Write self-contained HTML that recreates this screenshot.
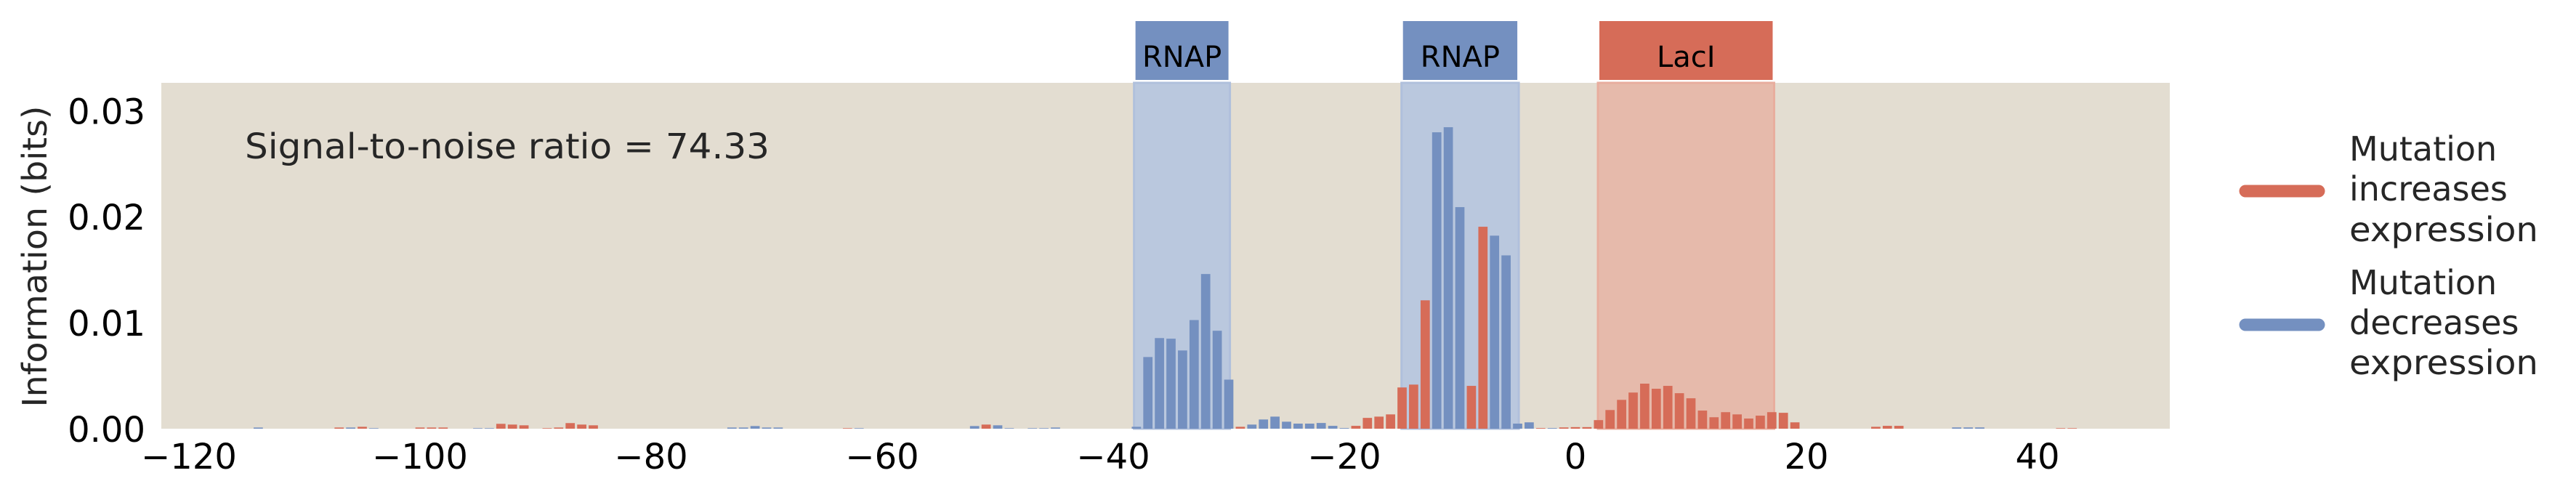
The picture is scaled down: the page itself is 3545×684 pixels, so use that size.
<!DOCTYPE html>
<html><head><meta charset="utf-8">
<style>
html,body{margin:0;padding:0;background:#fff;}
svg{display:block;font-family:"DejaVu Sans","Liberation Sans",sans-serif;}
</style></head>
<body>
<svg id="chart" width="3545" height="684" viewBox="0 0 3545 684" xmlns="http://www.w3.org/2000/svg">
  <rect x="222" y="114" width="2764" height="476" fill="#e3ddd1"/>
  <g id="regions"></g>
  <g id="bars"></g>
  <g id="yticks"></g>
  <g id="xticks"></g>
  <text x="337" y="218" font-size="48" fill="#262626" textLength="722" lengthAdjust="spacingAndGlyphs">Signal-to-noise ratio = 74.33</text>
  <text transform="translate(64,353) rotate(-90)" text-anchor="middle" font-size="46" fill="#262626" textLength="415" lengthAdjust="spacingAndGlyphs">Information (bits)</text>
  <g>
    <line x1="3090" y1="263" x2="3191" y2="263" stroke="#d66c58" stroke-width="17" stroke-linecap="round"/>
    <text font-size="46" fill="#262626"><tspan x="3233" y="221">Mutation</tspan><tspan x="3233" y="276">increases</tspan><tspan x="3233" y="332" textLength="260" lengthAdjust="spacingAndGlyphs">expression</tspan></text>
    <line x1="3090" y1="447" x2="3191" y2="447" stroke="#7490c0" stroke-width="17" stroke-linecap="round"/>
    <text font-size="46" fill="#262626"><tspan x="3233" y="405">Mutation</tspan><tspan x="3233" y="460">decreases</tspan><tspan x="3233" y="515" textLength="260" lengthAdjust="spacingAndGlyphs">expression</tspan></text>
  </g>
</svg>
<script>
const positions = [-114,-107,-106,-105,-104,-100,-99,-98,-95,-94,-93,-92,-91,-89,-88,-87,-86,-85,-73,-72,-71,-70,-69,-63,-62,-52,-51,-50,-49,-47,-46,-45,
 -38,-37,-36,-35,-34,-33,-32,-31,-30,-29,-28,-27,-26,-25,-24,-23,-22,-21,-20,-19,-18,-17,-16,-15,-14,-13,-12,-11,-10,-9,-8,-7,-6,-5,-4,-3,-2,-1,
 0,1,2,3,4,5,6,7,8,9,10,11,12,13,14,15,16,17,18,19,26,27,28,33,34,35,42,43];
const infoValues = [0.00011,0.00011,0.00011,0.00018,0.00005,0.00011,0.00011,0.00011,0.00005,0.00005,0.00046,0.00039,0.00032,0.00005,0.00011,0.00053,0.00039,0.00032,0.00011,0.00011,0.00025,0.00011,0.00011,0.00005,0.00005,0.00025,0.00039,0.00032,0.00005,0.00005,0.00005,0.00011,
 0.00018,0.00676,0.00855,0.00849,0.00738,0.01025,0.01459,0.00924,0.00463,0.00018,0.00039,0.00087,0.00114,0.00066,0.00048,0.00048,0.00054,0.00027,0.00006,0.00027,0.00102,0.00114,0.00135,0.00389,0.00416,0.01211,0.02796,0.02844,0.0209,0.00404,0.01905,0.01821,0.01635,0.00048,0.0006,0.00006,0.00006,0.00012,
 0.00015,0.00015,0.00081,0.00176,0.00272,0.00341,0.00425,0.00377,0.00404,0.00335,0.00287,0.00171,0.00108,0.00156,0.00135,0.00096,0.00123,0.00156,0.0015,0.0006,0.00018,0.00027,0.00027,0.00012,0.00012,0.00012,0.00005,0.00005];
const effectSign = ["d","i","d","i","d","i","i","i","d","d","i","i","i","i","i","i","i","i","d","d","d","d","d","i","d","d","i","d","d","d","d","d",
 "d","d","d","d","d","d","d","d","d","i","d","d","d","d","d","d","d","d","d","i","i","i","i","i","i","i","d","d","d","i","i","d","d","d","d","i","d","i",
 "i","i","i","i","i","i","i","i","i","i","i","i","i","i","i","i","i","i","i","i","i","i","i","d","d","d","i","i"];
const regionNames = ["RNAP","RNAP","LacI"];
const regionStart = [-38.2,-15.05,1.95];
const regionEnd = [-29.9,-4.9,17.2];
const regionKind = ["d","d","i"];
const yTickValues = [0,0.01,0.02,0.03];
const yTickLabels = ["0.00","0.01","0.02","0.03"];
const xTickValues = [-120,-100,-80,-60,-40,-20,0,20,40];
const xTickLabels = ["\u2212120","\u2212100","\u221280","\u221260","\u221240","\u221220","0","20","40"];

const NS="http://www.w3.org/2000/svg";
const X0=2168, UNIT=15.9, Y0=590, YS=14590;
function xs(v){return X0+v*UNIT;}
function ys(v){return Y0-v*YS;}
function mk(tag,attrs,parent){const e=document.createElementNS(NS,tag);for(const k in attrs)e.setAttribute(k,attrs[k]);parent.appendChild(e);return e;}
const colors={i:"#d66c58",d:"#7490c0"};
const shade={i:"#e6baab",d:"#bac8de"};
const shadeEdge={i:"#e8ad9e",d:"#b0c0dc"};

const gR=document.getElementById("regions");
regionNames.forEach((nm,k)=>{
  const x1=xs(regionStart[k]), x2=xs(regionEnd[k]);
  const s=mk("rect",{x:x1,y:114,width:x2-x1,height:476,fill:shade[regionKind[k]],stroke:shadeEdge[regionKind[k]],"stroke-width":3},gR);
  
  
  const b=mk("rect",{x:x1+2,y:29,width:x2-x1-4,height:81,fill:colors[regionKind[k]]},gR);
  
  
  const t=mk("text",{x:(x1+x2)/2,y:92,"text-anchor":"middle","font-size":40,fill:"#000"},gR);
  
  
  t.textContent=nm;
});

const gB=document.getElementById("bars");
positions.forEach((p,k)=>{
  const w=0.8*UNIT, v=infoValues[k];
  const r=mk("rect",{x:xs(p)-w/2,y:ys(v),width:w,height:Y0-ys(v),fill:colors[effectSign[k]]},gB);
  
  
});

const gY=document.getElementById("yticks");
yTickValues.forEach((v,k)=>{
  const t=mk("text",{x:200,y:ys(v)+18,"text-anchor":"end","font-size":48,fill:"#000"},gY);
  
  
  t.textContent=yTickLabels[k];
});
const gX=document.getElementById("xticks");
xTickValues.forEach((v,k)=>{
  const t=mk("text",{x:xs(v),y:645,"text-anchor":"middle","font-size":48,fill:"#000"},gX);
  
  
  t.textContent=xTickLabels[k];
});
</script>
</body></html>
